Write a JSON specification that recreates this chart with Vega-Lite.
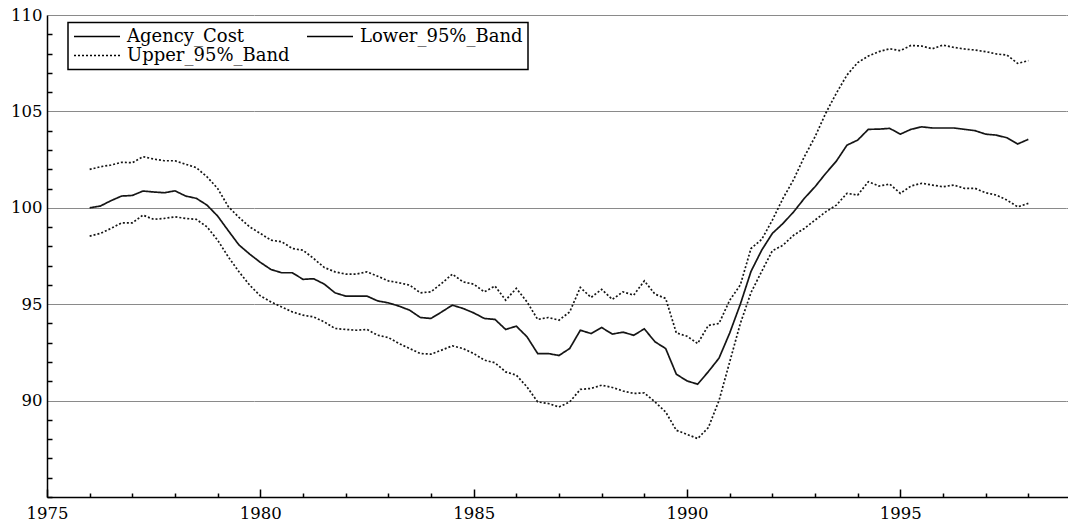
{
  "$schema": "https://vega.github.io/schema/vega-lite/v6.json",
  "width": 1024,
  "height": 482,
  "autosize": {"type": "none"},
  "padding": {"left": 47, "top": 15, "right": 0, "bottom": 25},
  "background": "white",
  "config": {"view": {"stroke": null}, "font": "DejaVu Serif"},
  "data": {"values": [
    {"t":1976.00,"Agency_Cost":100.0,"Lower_95%_Band":98.53,"Upper_95%_Band":101.99},
    {"t":1976.25,"Agency_Cost":100.09,"Lower_95%_Band":98.67,"Upper_95%_Band":102.13},
    {"t":1976.50,"Agency_Cost":100.37,"Lower_95%_Band":98.93,"Upper_95%_Band":102.22},
    {"t":1976.75,"Agency_Cost":100.61,"Lower_95%_Band":99.22,"Upper_95%_Band":102.36},
    {"t":1977.00,"Agency_Cost":100.64,"Lower_95%_Band":99.22,"Upper_95%_Band":102.34},
    {"t":1977.25,"Agency_Cost":100.87,"Lower_95%_Band":99.62,"Upper_95%_Band":102.65},
    {"t":1977.50,"Agency_Cost":100.82,"Lower_95%_Band":99.4,"Upper_95%_Band":102.53},
    {"t":1977.75,"Agency_Cost":100.78,"Lower_95%_Band":99.45,"Upper_95%_Band":102.44},
    {"t":1978.00,"Agency_Cost":100.88,"Lower_95%_Band":99.53,"Upper_95%_Band":102.44},
    {"t":1978.25,"Agency_Cost":100.61,"Lower_95%_Band":99.45,"Upper_95%_Band":102.26},
    {"t":1978.50,"Agency_Cost":100.49,"Lower_95%_Band":99.4,"Upper_95%_Band":102.08},
    {"t":1978.75,"Agency_Cost":100.14,"Lower_95%_Band":99.01,"Upper_95%_Band":101.61},
    {"t":1979.00,"Agency_Cost":99.57,"Lower_95%_Band":98.32,"Upper_95%_Band":101.0},
    {"t":1979.25,"Agency_Cost":98.81,"Lower_95%_Band":97.45,"Upper_95%_Band":100.06},
    {"t":1979.50,"Agency_Cost":98.07,"Lower_95%_Band":96.68,"Upper_95%_Band":99.5},
    {"t":1979.75,"Agency_Cost":97.6,"Lower_95%_Band":95.99,"Upper_95%_Band":99.01},
    {"t":1980.00,"Agency_Cost":97.17,"Lower_95%_Band":95.43,"Upper_95%_Band":98.67},
    {"t":1980.25,"Agency_Cost":96.8,"Lower_95%_Band":95.12,"Upper_95%_Band":98.32},
    {"t":1980.50,"Agency_Cost":96.63,"Lower_95%_Band":94.86,"Upper_95%_Band":98.24},
    {"t":1980.75,"Agency_Cost":96.63,"Lower_95%_Band":94.6,"Upper_95%_Band":97.89},
    {"t":1981.00,"Agency_Cost":96.29,"Lower_95%_Band":94.43,"Upper_95%_Band":97.8},
    {"t":1981.25,"Agency_Cost":96.32,"Lower_95%_Band":94.34,"Upper_95%_Band":97.37},
    {"t":1981.50,"Agency_Cost":96.04,"Lower_95%_Band":94.08,"Upper_95%_Band":96.9},
    {"t":1981.75,"Agency_Cost":95.59,"Lower_95%_Band":93.74,"Upper_95%_Band":96.68},
    {"t":1982.00,"Agency_Cost":95.42,"Lower_95%_Band":93.69,"Upper_95%_Band":96.56},
    {"t":1982.25,"Agency_Cost":95.42,"Lower_95%_Band":93.65,"Upper_95%_Band":96.56},
    {"t":1982.50,"Agency_Cost":95.42,"Lower_95%_Band":93.69,"Upper_95%_Band":96.68},
    {"t":1982.75,"Agency_Cost":95.17,"Lower_95%_Band":93.39,"Upper_95%_Band":96.45},
    {"t":1983.00,"Agency_Cost":95.07,"Lower_95%_Band":93.27,"Upper_95%_Band":96.21},
    {"t":1983.25,"Agency_Cost":94.9,"Lower_95%_Band":92.96,"Upper_95%_Band":96.11},
    {"t":1983.50,"Agency_Cost":94.69,"Lower_95%_Band":92.7,"Upper_95%_Band":95.99},
    {"t":1983.75,"Agency_Cost":94.31,"Lower_95%_Band":92.44,"Upper_95%_Band":95.59},
    {"t":1984.00,"Agency_Cost":94.26,"Lower_95%_Band":92.41,"Upper_95%_Band":95.64},
    {"t":1984.25,"Agency_Cost":94.6,"Lower_95%_Band":92.62,"Upper_95%_Band":96.08},
    {"t":1984.50,"Agency_Cost":94.95,"Lower_95%_Band":92.84,"Upper_95%_Band":96.56},
    {"t":1984.75,"Agency_Cost":94.78,"Lower_95%_Band":92.7,"Upper_95%_Band":96.16},
    {"t":1985.00,"Agency_Cost":94.55,"Lower_95%_Band":92.44,"Upper_95%_Band":96.04},
    {"t":1985.25,"Agency_Cost":94.26,"Lower_95%_Band":92.1,"Upper_95%_Band":95.64},
    {"t":1985.50,"Agency_Cost":94.21,"Lower_95%_Band":91.96,"Upper_95%_Band":95.94},
    {"t":1985.75,"Agency_Cost":93.69,"Lower_95%_Band":91.49,"Upper_95%_Band":95.21},
    {"t":1986.00,"Agency_Cost":93.86,"Lower_95%_Band":91.32,"Upper_95%_Band":95.82},
    {"t":1986.25,"Agency_Cost":93.31,"Lower_95%_Band":90.71,"Upper_95%_Band":95.12},
    {"t":1986.50,"Agency_Cost":92.44,"Lower_95%_Band":89.93,"Upper_95%_Band":94.21},
    {"t":1986.75,"Agency_Cost":92.44,"Lower_95%_Band":89.85,"Upper_95%_Band":94.31},
    {"t":1987.00,"Agency_Cost":92.34,"Lower_95%_Band":89.67,"Upper_95%_Band":94.17},
    {"t":1987.25,"Agency_Cost":92.7,"Lower_95%_Band":89.93,"Upper_95%_Band":94.6},
    {"t":1987.50,"Agency_Cost":93.65,"Lower_95%_Band":90.58,"Upper_95%_Band":95.87},
    {"t":1987.75,"Agency_Cost":93.48,"Lower_95%_Band":90.63,"Upper_95%_Band":95.35},
    {"t":1988.00,"Agency_Cost":93.79,"Lower_95%_Band":90.8,"Upper_95%_Band":95.77},
    {"t":1988.25,"Agency_Cost":93.45,"Lower_95%_Band":90.68,"Upper_95%_Band":95.25},
    {"t":1988.50,"Agency_Cost":93.55,"Lower_95%_Band":90.5,"Upper_95%_Band":95.64},
    {"t":1988.75,"Agency_Cost":93.39,"Lower_95%_Band":90.37,"Upper_95%_Band":95.47},
    {"t":1989.00,"Agency_Cost":93.72,"Lower_95%_Band":90.4,"Upper_95%_Band":96.21},
    {"t":1989.25,"Agency_Cost":93.05,"Lower_95%_Band":89.93,"Upper_95%_Band":95.52},
    {"t":1989.50,"Agency_Cost":92.7,"Lower_95%_Band":89.41,"Upper_95%_Band":95.3},
    {"t":1989.75,"Agency_Cost":91.37,"Lower_95%_Band":88.46,"Upper_95%_Band":93.51},
    {"t":1990.00,"Agency_Cost":91.02,"Lower_95%_Band":88.25,"Upper_95%_Band":93.34},
    {"t":1990.25,"Agency_Cost":90.85,"Lower_95%_Band":88.03,"Upper_95%_Band":92.96},
    {"t":1990.50,"Agency_Cost":91.5,"Lower_95%_Band":88.6,"Upper_95%_Band":93.9},
    {"t":1990.75,"Agency_Cost":92.2,"Lower_95%_Band":90.0,"Upper_95%_Band":94.0},
    {"t":1991.00,"Agency_Cost":93.5,"Lower_95%_Band":92.0,"Upper_95%_Band":95.2},
    {"t":1991.25,"Agency_Cost":95.0,"Lower_95%_Band":94.0,"Upper_95%_Band":96.0},
    {"t":1991.50,"Agency_Cost":96.7,"Lower_95%_Band":95.6,"Upper_95%_Band":97.89},
    {"t":1991.75,"Agency_Cost":97.8,"Lower_95%_Band":96.7,"Upper_95%_Band":98.36},
    {"t":1992.00,"Agency_Cost":98.67,"Lower_95%_Band":97.77,"Upper_95%_Band":99.36},
    {"t":1992.25,"Agency_Cost":99.19,"Lower_95%_Band":98.06,"Upper_95%_Band":100.49},
    {"t":1992.50,"Agency_Cost":99.79,"Lower_95%_Band":98.58,"Upper_95%_Band":101.47},
    {"t":1992.75,"Agency_Cost":100.49,"Lower_95%_Band":98.93,"Upper_95%_Band":102.65},
    {"t":1993.00,"Agency_Cost":101.09,"Lower_95%_Band":99.36,"Upper_95%_Band":103.68},
    {"t":1993.25,"Agency_Cost":101.78,"Lower_95%_Band":99.79,"Upper_95%_Band":104.9},
    {"t":1993.50,"Agency_Cost":102.42,"Lower_95%_Band":100.14,"Upper_95%_Band":105.94},
    {"t":1993.75,"Agency_Cost":103.25,"Lower_95%_Band":100.75,"Upper_95%_Band":106.89},
    {"t":1994.00,"Agency_Cost":103.51,"Lower_95%_Band":100.66,"Upper_95%_Band":107.53},
    {"t":1994.25,"Agency_Cost":104.07,"Lower_95%_Band":101.35,"Upper_95%_Band":107.87},
    {"t":1994.50,"Agency_Cost":104.08,"Lower_95%_Band":101.13,"Upper_95%_Band":108.1},
    {"t":1994.75,"Agency_Cost":104.12,"Lower_95%_Band":101.23,"Upper_95%_Band":108.25},
    {"t":1995.00,"Agency_Cost":103.82,"Lower_95%_Band":100.75,"Upper_95%_Band":108.15},
    {"t":1995.25,"Agency_Cost":104.07,"Lower_95%_Band":101.13,"Upper_95%_Band":108.42},
    {"t":1995.50,"Agency_Cost":104.2,"Lower_95%_Band":101.27,"Upper_95%_Band":108.39},
    {"t":1995.75,"Agency_Cost":104.14,"Lower_95%_Band":101.18,"Upper_95%_Band":108.25},
    {"t":1996.00,"Agency_Cost":104.14,"Lower_95%_Band":101.09,"Upper_95%_Band":108.44},
    {"t":1996.25,"Agency_Cost":104.14,"Lower_95%_Band":101.18,"Upper_95%_Band":108.32},
    {"t":1996.50,"Agency_Cost":104.07,"Lower_95%_Band":101.01,"Upper_95%_Band":108.24},
    {"t":1996.75,"Agency_Cost":104.0,"Lower_95%_Band":101.01,"Upper_95%_Band":108.18},
    {"t":1997.00,"Agency_Cost":103.82,"Lower_95%_Band":100.78,"Upper_95%_Band":108.1},
    {"t":1997.25,"Agency_Cost":103.77,"Lower_95%_Band":100.66,"Upper_95%_Band":107.98},
    {"t":1997.50,"Agency_Cost":103.63,"Lower_95%_Band":100.4,"Upper_95%_Band":107.92},
    {"t":1997.75,"Agency_Cost":103.31,"Lower_95%_Band":100.05,"Upper_95%_Band":107.49},
    {"t":1998.00,"Agency_Cost":103.55,"Lower_95%_Band":100.23,"Upper_95%_Band":107.63}
  ]},
  "transform": [{"fold": ["Agency_Cost", "Lower_95%_Band", "Upper_95%_Band"], "as": ["series", "v"]}],
  "layer": [
    {
      "transform": [{"filter": "datum.series !== 'Lower_95%_Band'"}],
      "mark": {"type": "line", "strokeWidth": 1.7, "color": "#151515"},
      "encoding": {
        "x": {
          "field": "t", "type": "quantitative",
          "scale": {"domain": [1975, 1999], "nice": false, "zero": false},
          "axis": {
            "orient": "bottom", "title": null,
            "values": [1975,1976,1977,1978,1979,1980,1981,1982,1983,1984,1985,1986,1987,1988,1989,1990,1991,1992,1993,1994,1995,1996,1997,1998],
            "tickCount": 40,
            "format": "d",
            "labelExpr": "datum.value % 5 === 0 ? datum.label : ''",
            "ticks": false, "tickSize": 0,
            "grid": true, "gridColor": "black", "gridWidth": 1.5,
            "gridDash": {"condition": {"test": "datum.value % 5 === 0", "value": [8, 3000]}, "value": [4, 3000]},
            "gridDashOffset": {"condition": {"test": "datum.value % 5 === 0", "value": 2534}, "value": 2526},
            "domainColor": "black", "domainWidth": 1.5,
            "labelPadding": 8,
            "labelFont": "DejaVu Serif", "labelFontSize": 16.5, "labelColor": "black",
            "labelFlush": false, "labelOverlap": false
          }
        },
        "y": {
          "field": "v", "type": "quantitative",
          "scale": {"domain": [85, 110], "nice": false, "zero": false},
          "axis": {
            "orient": "left", "title": null,
            "values": [85,86,87,88,89,90,91,92,93,94,95,96,97,98,99,100,101,102,103,104,105,106,107,108,109,110],
            "tickCount": 40,
            "format": "d",
            "labelExpr": "datum.value % 5 === 0 && datum.value > 85 ? datum.label : ''",
            "grid": true,
            "gridColor": {"condition": {"test": "datum.value % 5 === 0 && datum.value > 85", "value": "#8a8a8a"}, "value": "black"},
            "gridWidth": {"condition": {"test": "datum.value % 5 === 0 && datum.value > 85", "value": 1.2}, "value": 1.5},
            "gridDash": {"condition": {"test": "datum.value % 5 === 0 && datum.value > 85", "value": [1, 0]}, "value": [5, 3000]},
            "ticks": false, "tickSize": 0,
            "domainColor": "black", "domainWidth": 1.5,
            "labelPadding": 5,
            "labelFont": "DejaVu Serif", "labelFontSize": 16.5, "labelColor": "black",
            "labelFlush": false, "labelOverlap": false
          }
        },
        "strokeDash": {
          "field": "series", "type": "nominal",
          "scale": {"domain": ["Agency_Cost", "Lower_95%_Band", "Upper_95%_Band"], "range": [[1, 0], [1, 0], [2, 2]]},
          "legend": {
            "orient": "none", "legendX": 21, "legendY": 7.5,
            "direction": "horizontal", "columns": 2, "title": null,
            "symbolType": "stroke", "symbolSize": 2116, "symbolStrokeWidth": 1.5, "symbolStrokeColor": "black",
            "labelFont": "DejaVu Serif", "labelFontSize": 18, "labelColor": "black", "labelLimit": 0,
            "columnPadding": 14, "rowPadding": 1, "padding": 5,
            "strokeColor": "black", "fillColor": "white",
            "encode": {
              "symbols": {"update": {"x": {"value": 24}, "y": {"value": 9}}},
              "labels": {"update": {"x": {"value": 54}, "y": {"value": 9}}},
              "legend": {"update": {"strokeWidth": {"value": 1.5}}}
            }
          }
        }
      }
    },
    {
      "transform": [{"filter": "datum.series === 'Lower_95%_Band'"}],
      "mark": {"type": "line", "strokeWidth": 1.7, "color": "#151515", "strokeDash": [2, 2]},
      "encoding": {
        "x": {"field": "t", "type": "quantitative"},
        "y": {"field": "v", "type": "quantitative"}
      }
    }
  ]
}
